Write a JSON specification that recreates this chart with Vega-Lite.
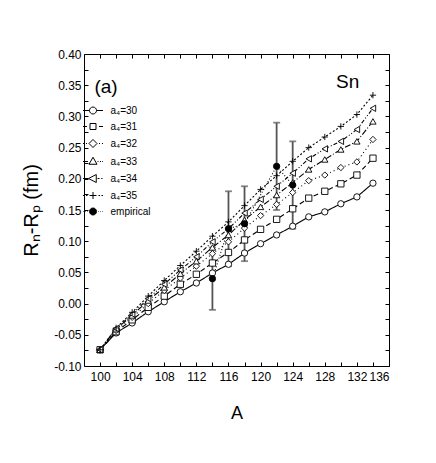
{
 "$schema": "https://vega.github.io/schema/vega-lite/v6.json",
 "width": 305, "height": 312,
 "autosize": {"type": "none"},
 "padding": {"left": 84, "top": 54, "right": 47, "bottom": 97},
 "background": "white",
 "config": {"view": {"stroke": null}, "font": "Liberation Sans"},
 "data": {"values": [
  {"A":100,"s":"a₄=30","v":-0.074},{"A":102,"s":"a₄=30","v":-0.047},{"A":104,"s":"a₄=30","v":-0.031},{"A":106,"s":"a₄=30","v":-0.013},{"A":108,"s":"a₄=30","v":0.003},{"A":110,"s":"a₄=30","v":0.019},{"A":112,"s":"a₄=30","v":0.033},{"A":114,"s":"a₄=30","v":0.049},{"A":116,"s":"a₄=30","v":0.063},{"A":118,"s":"a₄=30","v":0.081},{"A":120,"s":"a₄=30","v":0.096},{"A":122,"s":"a₄=30","v":0.110},{"A":124,"s":"a₄=30","v":0.124},{"A":126,"s":"a₄=30","v":0.139},{"A":128,"s":"a₄=30","v":0.147},{"A":130,"s":"a₄=30","v":0.160},{"A":132,"s":"a₄=30","v":0.171},{"A":134,"s":"a₄=30","v":0.193},
  {"A":100,"s":"a₄=31","v":-0.074},{"A":102,"s":"a₄=31","v":-0.045},{"A":104,"s":"a₄=31","v":-0.026},{"A":106,"s":"a₄=31","v":-0.006},{"A":108,"s":"a₄=31","v":0.012},{"A":110,"s":"a₄=31","v":0.031},{"A":112,"s":"a₄=31","v":0.047},{"A":114,"s":"a₄=31","v":0.065},{"A":116,"s":"a₄=31","v":0.082},{"A":118,"s":"a₄=31","v":0.102},{"A":120,"s":"a₄=31","v":0.119},{"A":122,"s":"a₄=31","v":0.135},{"A":124,"s":"a₄=31","v":0.152},{"A":126,"s":"a₄=31","v":0.169},{"A":128,"s":"a₄=31","v":0.180},{"A":130,"s":"a₄=31","v":0.192},{"A":132,"s":"a₄=31","v":0.206},{"A":134,"s":"a₄=31","v":0.233},
  {"A":100,"s":"a₄=32","v":-0.074},{"A":102,"s":"a₄=32","v":-0.043},{"A":104,"s":"a₄=32","v":-0.022},{"A":106,"s":"a₄=32","v":0.000},{"A":108,"s":"a₄=32","v":0.021},{"A":110,"s":"a₄=32","v":0.041},{"A":112,"s":"a₄=32","v":0.060},{"A":114,"s":"a₄=32","v":0.080},{"A":116,"s":"a₄=32","v":0.099},{"A":118,"s":"a₄=32","v":0.121},{"A":120,"s":"a₄=32","v":0.141},{"A":122,"s":"a₄=32","v":0.159},{"A":124,"s":"a₄=32","v":0.178},{"A":126,"s":"a₄=32","v":0.197},{"A":128,"s":"a₄=32","v":0.206},{"A":130,"s":"a₄=32","v":0.218},{"A":132,"s":"a₄=32","v":0.227},{"A":134,"s":"a₄=32","v":0.263},
  {"A":100,"s":"a₄=33","v":-0.074},{"A":102,"s":"a₄=33","v":-0.041},{"A":104,"s":"a₄=33","v":-0.019},{"A":106,"s":"a₄=33","v":0.005},{"A":108,"s":"a₄=33","v":0.026},{"A":110,"s":"a₄=33","v":0.048},{"A":112,"s":"a₄=33","v":0.068},{"A":114,"s":"a₄=33","v":0.090},{"A":116,"s":"a₄=33","v":0.110},{"A":118,"s":"a₄=33","v":0.134},{"A":120,"s":"a₄=33","v":0.155},{"A":122,"s":"a₄=33","v":0.174},{"A":124,"s":"a₄=33","v":0.194},{"A":126,"s":"a₄=33","v":0.215},{"A":128,"s":"a₄=33","v":0.231},{"A":130,"s":"a₄=33","v":0.247},{"A":132,"s":"a₄=33","v":0.260},{"A":134,"s":"a₄=33","v":0.292},
  {"A":100,"s":"a₄=34","v":-0.074},{"A":102,"s":"a₄=34","v":-0.040},{"A":104,"s":"a₄=34","v":-0.017},{"A":106,"s":"a₄=34","v":0.008},{"A":108,"s":"a₄=34","v":0.031},{"A":110,"s":"a₄=34","v":0.054},{"A":112,"s":"a₄=34","v":0.075},{"A":114,"s":"a₄=34","v":0.099},{"A":116,"s":"a₄=34","v":0.120},{"A":118,"s":"a₄=34","v":0.145},{"A":120,"s":"a₄=34","v":0.167},{"A":122,"s":"a₄=34","v":0.188},{"A":124,"s":"a₄=34","v":0.209},{"A":126,"s":"a₄=34","v":0.232},{"A":128,"s":"a₄=34","v":0.248},{"A":130,"s":"a₄=34","v":0.260},{"A":132,"s":"a₄=34","v":0.279},{"A":134,"s":"a₄=34","v":0.313},
  {"A":100,"s":"a₄=35","v":-0.074},{"A":102,"s":"a₄=35","v":-0.039},{"A":104,"s":"a₄=35","v":-0.014},{"A":106,"s":"a₄=35","v":0.012},{"A":108,"s":"a₄=35","v":0.037},{"A":110,"s":"a₄=35","v":0.061},{"A":112,"s":"a₄=35","v":0.084},{"A":114,"s":"a₄=35","v":0.108},{"A":116,"s":"a₄=35","v":0.131},{"A":118,"s":"a₄=35","v":0.157},{"A":120,"s":"a₄=35","v":0.183},{"A":122,"s":"a₄=35","v":0.205},{"A":124,"s":"a₄=35","v":0.228},{"A":126,"s":"a₄=35","v":0.250},{"A":128,"s":"a₄=35","v":0.267},{"A":130,"s":"a₄=35","v":0.284},{"A":132,"s":"a₄=35","v":0.303},{"A":134,"s":"a₄=35","v":0.334},
  {"A":114,"s":"empirical","v":0.040,"lo":-0.010,"hi":0.090},{"A":116,"s":"empirical","v":0.120,"lo":0.060,"hi":0.180},{"A":118,"s":"empirical","v":0.128,"lo":0.068,"hi":0.188},{"A":122,"s":"empirical","v":0.220,"lo":0.150,"hi":0.290},{"A":124,"s":"empirical","v":0.190,"lo":0.120,"hi":0.260}
 ]},
 "layer": [
  {"mark": {"type": "line", "color": "black", "strokeWidth": 1.1},
   "encoding": {
    "x": {"field": "A", "type": "quantitative", "scale": {"domain": [98, 136], "nice": false, "zero": false},
      "axis": {"orient": "bottom", "values": [100,102,104,106,108,110,112,114,116,118,120,122,124,126,128,130,132,134,136],
        "labelExpr": "(datum.value-100)%4===0 ? datum.label : ''", "grid": false,
        "tickSize": -4, "tickColor": "black", "domainColor": "black", "labelColor": "black",
        "labelFont": "Liberation Sans", "labelFontSize": 12, "labelPadding": 9,
        "title": "A", "titleFont": "Liberation Sans", "titleFontSize": 18, "titleFontWeight": "normal", "titleColor": "black", "titlePadding": 22}},
    "y": {"field": "v", "type": "quantitative", "scale": {"domain": [-0.1, 0.4], "nice": false, "zero": false},
      "axis": {"orient": "left", "values": [-0.1,-0.075,-0.05,-0.025,0,0.025,0.05,0.075,0.1,0.125,0.15,0.175,0.2,0.225,0.25,0.275,0.3,0.325,0.35,0.375,0.4],
        "labelExpr": "abs(datum.value*20-round(datum.value*20))<0.001 ? replace(format(datum.value,'.2f'),'\u2212','-') : ''", "grid": false,
        "tickSize": -4, "tickColor": "black", "domainColor": "black", "labelColor": "black",
        "labelFont": "Liberation Sans", "labelFontSize": 12, "labelPadding": 7,
        "title": "Rₙ-Rₚ (fm)", "titleFont": "Liberation Sans", "titleFontSize": 20, "titleFontWeight": "normal", "titleColor": "black", "titlePadding": 12}},
    "strokeDash": {"field": "s", "type": "nominal",
      "scale": {"domain": ["a₄=30","a₄=31","a₄=32","a₄=33","a₄=34","a₄=35","empirical"],
        "range": [[1,0],[5,3],[1,3],[6,2,1,2],[4,2,1,2,1,2],[2,2],[1,2]]}, "legend": null}
   }},
  {"transform": [{"filter": "datum.s === 'empirical'"}],
   "mark": {"type": "rule", "color": "#555555", "strokeWidth": 1.8},
   "encoding": {
    "x": {"field": "A", "type": "quantitative",
      "axis": {"orient": "top", "values": [100,102,104,106,108,110,112,114,116,118,120,122,124,126,128,130,132,134,136], "labels": false, "title": null, "grid": false, "tickSize": -4, "tickColor": "black", "domainColor": "black"}},
    "y": {"field": "lo", "type": "quantitative",
      "axis": {"orient": "right", "values": [-0.1,-0.075,-0.05,-0.025,0,0.025,0.05,0.075,0.1,0.125,0.15,0.175,0.2,0.225,0.25,0.275,0.3,0.325,0.35,0.375,0.4], "labels": false, "title": null, "grid": false, "tickSize": -4, "tickColor": "black", "domainColor": "black"}},
    "y2": {"field": "hi"}
   }},
  {"transform": [{"filter": "datum.s === 'empirical'"}],
   "mark": {"type": "tick", "orient": "horizontal", "color": "#555555", "size": 7, "thickness": 1.8},
   "encoding": {"x": {"field": "A", "type": "quantitative", "axis": null}, "y": {"field": "lo", "type": "quantitative", "axis": null}}},
  {"transform": [{"filter": "datum.s === 'empirical'"}],
   "mark": {"type": "tick", "orient": "horizontal", "color": "#555555", "size": 7, "thickness": 1.8},
   "encoding": {"x": {"field": "A", "type": "quantitative", "axis": null}, "y": {"field": "hi", "type": "quantitative", "axis": null}}},
  {"mark": {"type": "point", "filled": true, "stroke": "black", "strokeWidth": 0.9, "size": 40, "opacity": 1},
   "encoding": {
    "x": {"field": "A", "type": "quantitative", "axis": null},
    "y": {"field": "v", "type": "quantitative", "axis": null},
    "shape": {"field": "s", "type": "nominal",
      "scale": {"domain": ["a₄=30","a₄=31","a₄=32","a₄=33","a₄=34","a₄=35","empirical"],
        "range": ["circle","square","diamond","triangle-up","triangle-left","M-1,0L1,0M0,-1L0,1","circle"]}, "legend": null},
    "fill": {"field": "s", "type": "nominal",
      "scale": {"domain": ["a₄=30","a₄=31","a₄=32","a₄=33","a₄=34","a₄=35","empirical"],
        "range": ["white","white","white","white","white","white","black"]}, "legend": null}
   }},
  {"mark": {"type": "point", "filled": true, "stroke": "black", "strokeWidth": 1, "opacity": 0},
   "encoding": {
    "x": {"field": "A", "type": "quantitative", "axis": null},
    "y": {"field": "v", "type": "quantitative", "axis": null},
    "shape": {"field": "s", "type": "nominal",
      "scale": {"domain": ["a₄=30","a₄=31","a₄=32","a₄=33","a₄=34","a₄=35","empirical"],
        "range": [
          "M-2,0L-0.7,0M0.7,0L2,0M0.7,0A0.7,0.7,0,1,1,-0.7,0A0.7,0.7,0,1,1,0.7,0Z",
          "M-2,0L-1.2,0M1.2,0L2,0M-0.6,-0.6L0.6,-0.6L0.6,0.6L-0.6,0.6Z",
          "M-2,0L-1.8,0M-1.4,0L-1.2,0M1.2,0L1.4,0M1.8,0L2,0M0,-0.8L0.8,0L0,0.8L-0.8,0Z",
          "M-2,0L-1,0M0.9,0L1.1,0M1.4,0L1.6,0M1.85,0L2,0M0,-0.85L0.8,0.55L-0.8,0.55Z",
          "M-2,0L-0.9,0M0.9,0L1.3,0M1.6,0L1.75,0M1.9,0L2,0M-0.9,0L0.65,-0.8L0.65,0.8Z",
          "M-2,0L-1.7,0M-1.4,0L-1.1,0M1.1,0L1.4,0M1.7,0L2,0M-0.7,0L0.7,0M0,-0.7L0,0.7",
          "M-2,0L-1.9,0M-1.6,0L-1.5,0M-1.2,0L-1.1,0M1.1,0L1.2,0M1.5,0L1.6,0M1.9,0L2,0M0.7,0A0.7,0.7,0,1,1,-0.7,0A0.7,0.7,0,1,1,0.7,0Z"
        ]},
      "legend": {"orient": "none", "legendX": 3.5, "legendY": 51, "title": null, "padding": 0,
        "symbolSize": 100, "symbolStrokeWidth": 1, "symbolStrokeColor": "black", "symbolOpacity": 1,
        "labelFont": "Liberation Sans", "labelFontSize": 10, "labelColor": "black", "labelOffset": 12, "rowPadding": 5,
        "encode": {"symbols": {"update": {"stroke": {"value": "black"}, "strokeWidth": {"value": 1}, "opacity": {"value": 1}, "strokeOpacity": {"value": 1}}}}}},
    "fill": {"field": "s", "type": "nominal",
      "scale": {"domain": ["a₄=30","a₄=31","a₄=32","a₄=33","a₄=34","a₄=35","empirical"],
        "range": ["white","white","white","white","white","white","black"]},
      "legend": {"orient": "none", "legendX": 3.5, "legendY": 51, "title": null, "padding": 0,
        "symbolSize": 100, "symbolStrokeWidth": 1, "symbolStrokeColor": "black", "symbolOpacity": 1,
        "labelFont": "Liberation Sans", "labelFontSize": 10, "labelColor": "black", "labelOffset": 12, "rowPadding": 5,
        "encode": {"symbols": {"update": {"stroke": {"value": "black"}, "strokeWidth": {"value": 1}, "opacity": {"value": 1}, "strokeOpacity": {"value": 1}}}}}}
   }},
  {"data": {"values": [{"t": "(a)"}]},
   "mark": {"type": "text", "align": "left", "baseline": "middle", "fontSize": 19, "fontWeight": "normal", "font": "Liberation Sans", "color": "black"},
   "encoding": {"x": {"datum": 99.3, "type": "quantitative", "axis": null}, "y": {"datum": 0.347, "type": "quantitative", "axis": null}, "text": {"field": "t"}}},
  {"data": {"values": [{"t": "Sn"}]},
   "mark": {"type": "text", "align": "left", "baseline": "middle", "fontSize": 19, "fontWeight": "normal", "font": "Liberation Sans", "color": "black"},
   "encoding": {"x": {"datum": 129.4, "type": "quantitative", "axis": null}, "y": {"datum": 0.355, "type": "quantitative", "axis": null}, "text": {"field": "t"}}}
 ],
 "resolve": {"scale": {"shape": "independent", "fill": "independent"}}
}
